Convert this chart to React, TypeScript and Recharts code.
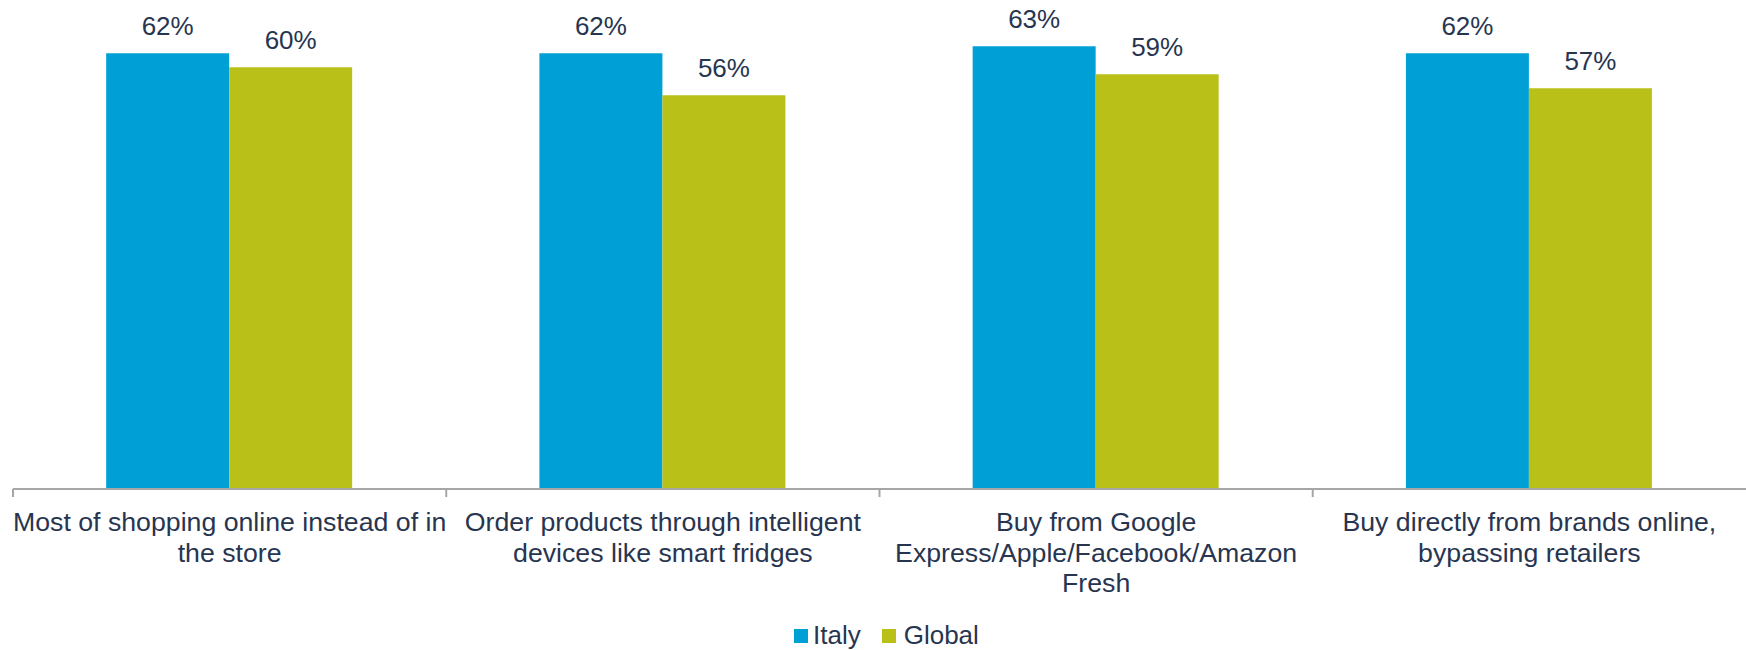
import { BarChart, Bar, XAxis, YAxis, LabelList } from "recharts";

const categories = [
  "Most of shopping online instead of in the store",
  "Order products through intelligent devices like smart fridges",
  "Buy from Google Express/Apple/Facebook/Amazon Fresh",
  "Buy directly from brands online, bypassing retailers",
];

// line breaks as they appear under the axis
const tickLines = [
  ["Most of shopping online instead of in", "the store"],
  ["Order products through intelligent", "devices like smart fridges"],
  ["Buy from Google", "Express/Apple/Facebook/Amazon", "Fresh"],
  ["Buy directly from brands online,", "bypassing retailers"],
];

const italy = [62, 62, 63, 62];
const global = [60, 56, 59, 57];

const data = categories.map((name, i) => ({
  name,
  italy: italy[i],
  global: global[i],
}));

const W = 1746;
const H = 650;
const X_AXIS_H = 30;
const margin = { top: 11, right: 0, left: 13, bottom: 161 - X_AXIS_H };
const band = (W - margin.left - margin.right) / categories.length;
const axisY = H - 161;

const BLUE = "#00A0D6";
const GREEN = "#B9C118";
const TEXT = "#273550";
const AXIS = "#A6A6A6";
const FONT = "'Liberation Sans', Arial, sans-serif";

const CategoryTick = (props: any) => {
  const { x, index } = props;
  const lines = tickLines[index] || [];
  return (
    <g>
      <line x1={x - band / 2} x2={x - band / 2} y1={axisY} y2={axisY + 8} stroke={AXIS} strokeWidth={2} />
      <text x={x} y={axisY + 42} textAnchor="middle" fill={TEXT} fontSize={26.7} fontFamily={FONT}>
        {lines.map((l: string, i: number) => (
          <tspan key={i} x={x} dy={i === 0 ? 0 : 30.5}>
            {l}
          </tspan>
        ))}
      </text>
    </g>
  );
};

const ValueLabel = (props: any) => {
  const { x, y, width, value } = props;
  return (
    <text x={x + width / 2} y={y - 18} textAnchor="middle" fill={TEXT} fontSize={26} fontFamily={FONT}>
      {value}%
    </text>
  );
};

export default function App() {
  return (
    <div style={{ position: "absolute", left: 0, top: 0, width: W, height: H, background: "#fff" }}>
      <BarChart width={W} height={H} data={data} margin={margin} barGap={0} barCategoryGap="21.5%">
        <XAxis
          dataKey="name"
          height={X_AXIS_H}
          axisLine={{ stroke: AXIS, strokeWidth: 2 }}
          tickLine={false}
          tick={<CategoryTick />}
          interval={0}
        />
        <YAxis hide domain={[0, 68]} />
        <Bar dataKey="italy" name="Italy" fill={BLUE} isAnimationActive={false}>
          <LabelList dataKey="italy" content={<ValueLabel />} />
        </Bar>
        <Bar dataKey="global" name="Global" fill={GREEN} isAnimationActive={false}>
          <LabelList dataKey="global" content={<ValueLabel />} />
        </Bar>
      </BarChart>
      <div
        style={{
          position: "absolute",
          left: 794,
          top: 620,
          display: "flex",
          alignItems: "center",
          fontFamily: FONT,
          fontSize: 26,
          color: TEXT,
        }}
      >
        <span style={{ width: 14, height: 14, background: BLUE, display: "inline-block", marginRight: 5 }} />
        <span style={{ marginRight: 21 }}>Italy</span>
        <span style={{ width: 14, height: 14, background: GREEN, display: "inline-block", marginRight: 8 }} />
        <span>Global</span>
      </div>
    </div>
  );
}
